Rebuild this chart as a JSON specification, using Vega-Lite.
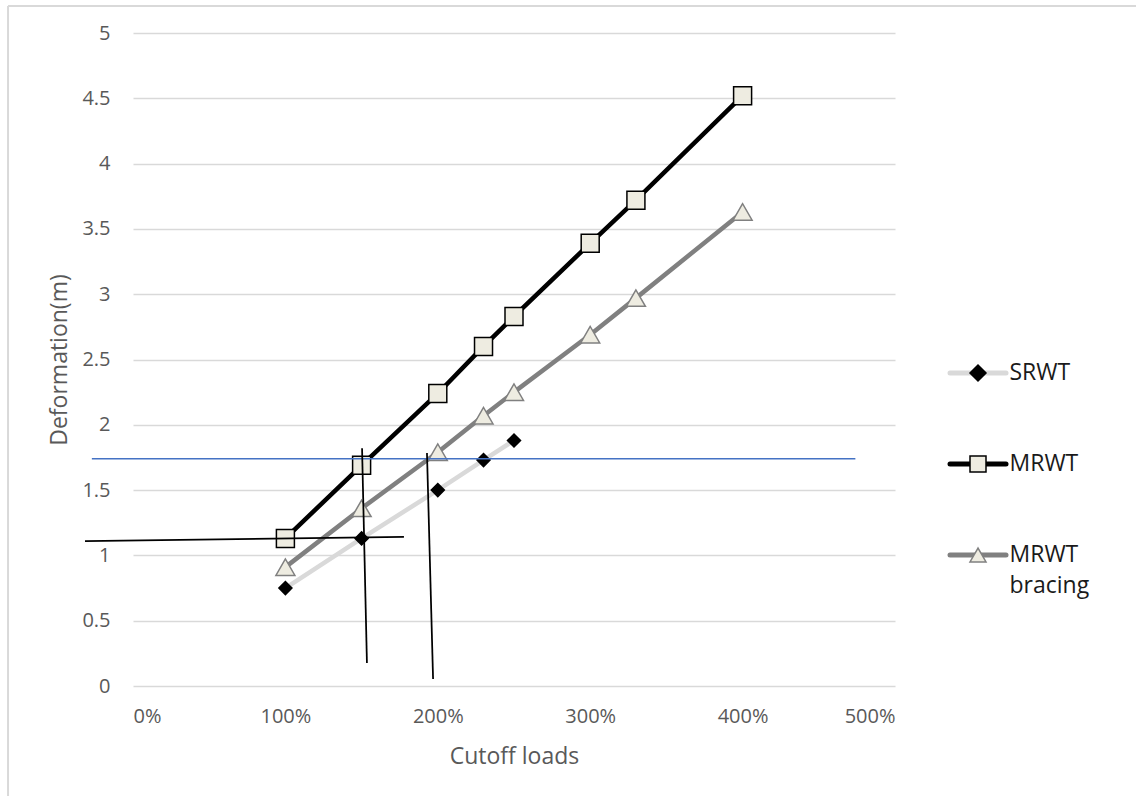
{
  "$schema": "https://vega.github.io/schema/vega-lite/v6.json",
  "width": 762,
  "height": 653,
  "autosize": {"type": "none"},
  "padding": {"left": 133, "top": 33, "right": 241, "bottom": 110},
  "background": "white",
  "config": {
    "view": {"stroke": null},
    "font": "Open Sans",
    "axis": {"titleFontWeight": "normal"}
  },
  "datasets": {
    "series": [
      {"series": "SRWT", "load": 1.0, "deformation": 0.75},
      {"series": "SRWT", "load": 1.5, "deformation": 1.13},
      {"series": "SRWT", "load": 2.0, "deformation": 1.5},
      {"series": "SRWT", "load": 2.3, "deformation": 1.73},
      {"series": "SRWT", "load": 2.5, "deformation": 1.88},
      {"series": "MRWT", "load": 1.0, "deformation": 1.13},
      {"series": "MRWT", "load": 1.5, "deformation": 1.69},
      {"series": "MRWT", "load": 2.0, "deformation": 2.24},
      {"series": "MRWT", "load": 2.3, "deformation": 2.6},
      {"series": "MRWT", "load": 2.5, "deformation": 2.83},
      {"series": "MRWT", "load": 3.0, "deformation": 3.39},
      {"series": "MRWT", "load": 3.3, "deformation": 3.72},
      {"series": "MRWT", "load": 4.0, "deformation": 4.52},
      {"series": "MRWT bracing", "load": 1.0, "deformation": 0.91},
      {"series": "MRWT bracing", "load": 1.5, "deformation": 1.36},
      {"series": "MRWT bracing", "load": 2.0, "deformation": 1.79},
      {"series": "MRWT bracing", "load": 2.3, "deformation": 2.07},
      {"series": "MRWT bracing", "load": 2.5, "deformation": 2.25},
      {"series": "MRWT bracing", "load": 3.0, "deformation": 2.69},
      {"series": "MRWT bracing", "load": 3.3, "deformation": 2.97},
      {"series": "MRWT bracing", "load": 4.0, "deformation": 3.63}
    ],
    "guides_blue": [
      {"x": -0.27, "y": 1.74, "x2": 4.74, "y2": 1.74}
    ],
    "guides_black": [
      {"x": -0.315, "y": 1.11, "x2": 1.778, "y2": 1.141},
      {"x": 1.503, "y": 1.82, "x2": 1.535, "y2": 0.176},
      {"x": 1.929, "y": 1.784, "x2": 1.969, "y2": 0.054}
    ],
    "frame": [
      {"x": -0.82, "y": 5.207, "x2": 7, "y2": 5.207},
      {"x": -0.82, "y": 5.207, "x2": -0.82, "y2": -1}
    ]
  },
  "layer": [
    {
      "data": {"name": "frame"},
      "mark": {"type": "rule", "color": "#d9d9d9", "strokeWidth": 2},
      "encoding": {
        "x": {"field": "x", "type": "quantitative", "title": "Cutoff loads"},
        "y": {"field": "y", "type": "quantitative", "title": "Deformation(m)"},
        "x2": {"field": "x2"},
        "y2": {"field": "y2"}
      }
    },
    {
      "data": {"name": "series"},
      "mark": {"type": "line", "strokeWidth": 4.5, "strokeCap": "round", "strokeJoin": "round"},
      "encoding": {
        "x": {
          "field": "load", "type": "quantitative", "title": "Cutoff loads",
          "scale": {"domain": [0, 5], "nice": false},
          "axis": {
            "values": [0, 1, 2, 3, 4, 5], "format": ".0%", "grid": false, "domain": false,
            "ticks": false, "tickSize": 0, "labelFontSize": 20, "labelColor": "#595959",
            "labelPadding": 20, "titleFontSize": 23, "titleColor": "#595959", "titlePadding": 19
          }
        },
        "y": {
          "field": "deformation", "type": "quantitative", "title": "Deformation(m)",
          "scale": {"domain": [0, 5], "nice": false},
          "axis": {
            "values": [0, 0.5, 1, 1.5, 2, 2.5, 3, 3.5, 4, 4.5, 5], "format": "~g",
            "grid": true, "gridColor": "#d9d9d9", "gridWidth": 1.5, "domain": false,
            "ticks": false, "tickSize": 0, "labelFontSize": 20, "labelColor": "#595959",
            "labelPadding": 23, "titleFontSize": 23, "titleColor": "#595959", "titlePadding": 10
          }
        },
        "color": {
          "field": "series", "type": "nominal", "title": null,
          "scale": {"domain": ["SRWT", "MRWT", "MRWT bracing", "~"], "range": ["#d9d9d9", "#000000", "#808080", "#ffffff"]},
          "legend": {
            "values": ["SRWT", "MRWT", "MRWT bracing"],
            "orient": "none", "legendX": 833.5, "legendY": 328.5, "title": null, "padding": 0,
            "symbolType": "M-3.5,0H3.5", "symbolSize": 256, "symbolStrokeWidth": 5,
            "labelFontSize": 23, "labelFont": "Open Sans", "labelColor": "#1a1a1a",
            "labelOffset": 20, "rowPadding": 67,
            "labelExpr": "datum.label == 'MRWT bracing' ? ['MRWT', 'bracing'] : datum.label",
            "encode": {
              "labels": {"update": {"lineHeight": {"value": 31}}},
              "symbols": {"update": {"strokeCap": {"value": "round"}}}
            }
          }
        }
      }
    },
    {
      "data": {"name": "series"},
      "mark": {"type": "point", "opacity": 1, "strokeWidth": 1.5, "filled": true},
      "encoding": {
        "x": {"field": "load", "type": "quantitative", "title": "Cutoff loads"},
        "y": {"field": "deformation", "type": "quantitative", "title": "Deformation(m)"},
        "shape": {
          "field": "series", "type": "nominal", "title": null,
          "scale": {"domain": ["SRWT", "MRWT", "MRWT bracing"], "range": ["diamond", "square", "triangle-up"]},
          "legend": {
            "orient": "none", "legendX": 833.5, "legendY": 328.5, "title": null, "padding": 0,
            "symbolSize": 256, "symbolStrokeWidth": 1.5, "symbolOpacity": 1,
            "symbolFillColor": "#eeece1", "symbolStrokeColor": "#000000",
            "labelFontSize": 23, "labelFont": "Open Sans", "labelColor": "transparent",
            "labelOffset": 20, "rowPadding": 67, "labelExpr": "' '"
          }
        },
        "fill": {
          "field": "series", "type": "nominal", "title": null,
          "scale": {"domain": ["SRWT", "MRWT", "MRWT bracing"], "range": ["#000000", "#eeece1", "#eeece1"]},
          "legend": {
            "orient": "none", "legendX": 833.5, "legendY": 328.5, "title": null, "padding": 0,
            "symbolSize": 256, "symbolStrokeWidth": 1.5, "symbolOpacity": 1,
            "symbolFillColor": "#eeece1", "symbolStrokeColor": "#000000",
            "labelFontSize": 23, "labelFont": "Open Sans", "labelColor": "transparent",
            "labelOffset": 20, "rowPadding": 67, "labelExpr": "' '"
          }
        },
        "stroke": {
          "field": "series", "type": "nominal", "title": null,
          "scale": {"domain": ["SRWT", "MRWT", "MRWT bracing"], "range": ["#000000", "#000000", "#808080"]},
          "legend": {
            "orient": "none", "legendX": 833.5, "legendY": 328.5, "title": null, "padding": 0,
            "symbolSize": 256, "symbolStrokeWidth": 1.5, "symbolOpacity": 1,
            "symbolFillColor": "#eeece1", "symbolStrokeColor": "#000000",
            "labelFontSize": 23, "labelFont": "Open Sans", "labelColor": "transparent",
            "labelOffset": 20, "rowPadding": 67, "labelExpr": "' '"
          }
        },
        "size": {
          "field": "series", "type": "nominal",
          "scale": {"type": "ordinal", "domain": ["SRWT", "MRWT", "MRWT bracing", "~~"], "range": [170, 324, 361, 100]},
          "legend": null
        }
      }
    },
    {
      "data": {"name": "guides_blue"},
      "mark": {"type": "rule", "color": "#4472c4", "strokeWidth": 1.5},
      "encoding": {
        "x": {"field": "x", "type": "quantitative", "title": "Cutoff loads"},
        "y": {"field": "y", "type": "quantitative", "title": "Deformation(m)"},
        "x2": {"field": "x2"},
        "y2": {"field": "y2"}
      }
    },
    {
      "data": {"name": "guides_black"},
      "mark": {"type": "rule", "color": "#000000", "strokeWidth": 1.75},
      "encoding": {
        "x": {"field": "x", "type": "quantitative", "title": "Cutoff loads"},
        "y": {"field": "y", "type": "quantitative", "title": "Deformation(m)"},
        "x2": {"field": "x2"},
        "y2": {"field": "y2"}
      }
    }
  ]
}
